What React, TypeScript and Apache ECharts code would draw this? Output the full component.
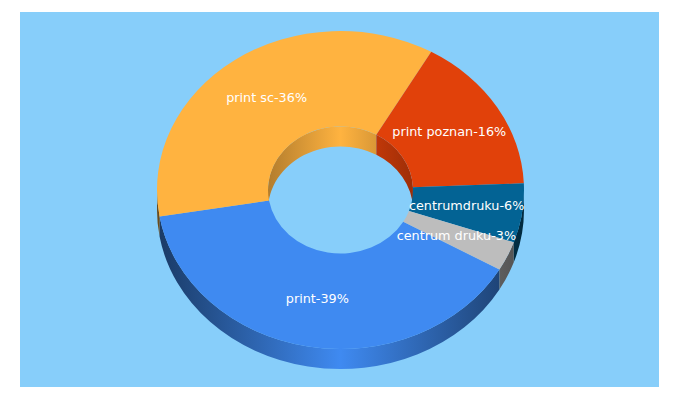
import React, { useEffect, useRef } from "react";
import * as echarts from "echarts";

const categories = ["print", "print sc", "print poznan", "centrumdruku", "centrum druku"];
const values = [39, 35.9, 16.1, 6, 3];
const colors = ["#3F8AF1", "#FFB340", "#E1410A", "#036394", "#BDBDBD"];

const CX = 340.5, CY = 190, RX = 183.5, RY = 159, IRX = 72.5, IRY = 63.5, DEPTH = 20;
const START = 30;
const total = values.reduce((a, b) => a + b, 0);

function range(i: number): [number, number] {
  let sum = 0;
  for (let k = 0; k < i; k++) sum += values[k];
  return [START + (sum / total) * 360, START + ((sum + values[i]) / total) * 360];
}
const pt = (rx: number, ry: number, deg: number, dy = 0) => {
  const t = (deg * Math.PI) / 180;
  return `${(CX + rx * Math.cos(t)).toFixed(2)} ${(CY + dy + ry * Math.sin(t)).toFixed(2)}`;
};
const arc = (rx: number, ry: number, a: number, b: number, dy = 0) => {
  const large = Math.abs(b - a) > 180 ? 1 : 0;
  const sweep = b > a ? 1 : 0;
  return `A ${rx} ${ry} 0 ${large} ${sweep} ${pt(rx, ry, b, dy)}`;
};
function topPath(a: number, b: number) {
  return `M ${pt(RX, RY, a)} ${arc(RX, RY, a, b)} L ${pt(IRX, IRY, b)} ${arc(IRX, IRY, b, a)} Z`;
}
function wallPath(rx: number, ry: number, a: number, b: number) {
  return `M ${pt(rx, ry, a)} ${arc(rx, ry, a, b)} L ${pt(rx, ry, b, DEPTH)} ${arc(rx, ry, b, a, DEPTH)} Z`;
}
function clip(a: number, b: number, windows: [number, number][]) {
  const out: [number, number][] = [];
  windows.forEach(([l, h]) => {
    const s = Math.max(a, l), e = Math.min(b, h);
    if (e > s) out.push([s, e]);
  });
  return out;
}
function shade(hex: string, f: number) {
  const n = parseInt(hex.slice(1), 16);
  const c = [(n >> 16) & 255, (n >> 8) & 255, n & 255].map((v) => Math.round(v * f));
  return `rgb(${c[0]},${c[1]},${c[2]})`;
}
function wallFill(hex: string, x0: number, x1: number, edge: number) {
  return new echarts.graphic.LinearGradient(x0, 0, x1, 0, [
    { offset: 0, color: shade(hex, edge) },
    { offset: 0.5, color: hex },
    { offset: 1, color: shade(hex, edge) },
  ], true);
}

export default function App() {
  const ref = useRef<HTMLDivElement>(null);
  useEffect(() => {
    document.body.style.margin = "0";
    const chart = echarts.init(ref.current!, null, { renderer: "svg" });
    const walls = (rx: number, ry: number, windows: [number, number][], edge: number) =>
      (params: any) => {
        const i = params.dataIndex;
        const [a, b] = range(i);
        return {
          type: "group",
          children: clip(a, b, windows).map(([s, e]) => ({
            type: "path",
            shape: { pathData: wallPath(rx, ry, s, e) },
            style: { fill: wallFill(colors[i], CX - rx, CX + rx, edge) },
          })),
        };
      };
    chart.setOption({
      animation: false,
      backgroundColor: "#FFFFFF",
      graphic: [
        { type: "rect", z: -1, shape: { x: 20, y: 12, width: 639, height: 375 }, style: { fill: "#87CEFA" } },
      ],
      series: [
        {
          type: "custom", name: "outer", coordinateSystem: "none", silent: true, z: 2, data: values,
          renderItem: walls(RX, RY, [[0, 180], [360, 540]], 0.42),
        },
        {
          type: "custom", name: "inner", coordinateSystem: "none", silent: true, z: 3, data: values,
          renderItem: walls(IRX, IRY, [[180, 360], [540, 720]], 0.7),
        },
        {
          type: "custom", name: "top", coordinateSystem: "none", silent: true, z: 4, data: values,
          renderItem: (params: any) => {
            const [a, b] = range(params.dataIndex);
            return {
              type: "path",
              shape: { pathData: topPath(a, b) },
              style: { fill: colors[params.dataIndex] },
            };
          },
        },
        {
          type: "custom", name: "labels", coordinateSystem: "none", silent: true, z: 5, data: values,
          renderItem: (params: any, api: any) => {
            const i = params.dataIndex;
            const [a, b] = range(i);
            const m = ((a + b) / 2 * Math.PI) / 180;
            return {
              type: "text",
              x: CX - 0.5 + ((RX + IRX) / 2) * Math.cos(m),
              y: CY - 1 + ((RY + IRY) / 2) * Math.sin(m),
              style: {
                text: `${categories[i]}-${Math.round(api.value(0))}%`,
                fill: "#FFFFFF",
                font: '12.8px "DejaVu Sans"',
                align: "center",
                verticalAlign: "middle",
              },
            };
          },
        },
      ],
    });
    return () => chart.dispose();
  }, []);
  return <div ref={ref} style={{ width: 680, height: 400 }} />;
}
